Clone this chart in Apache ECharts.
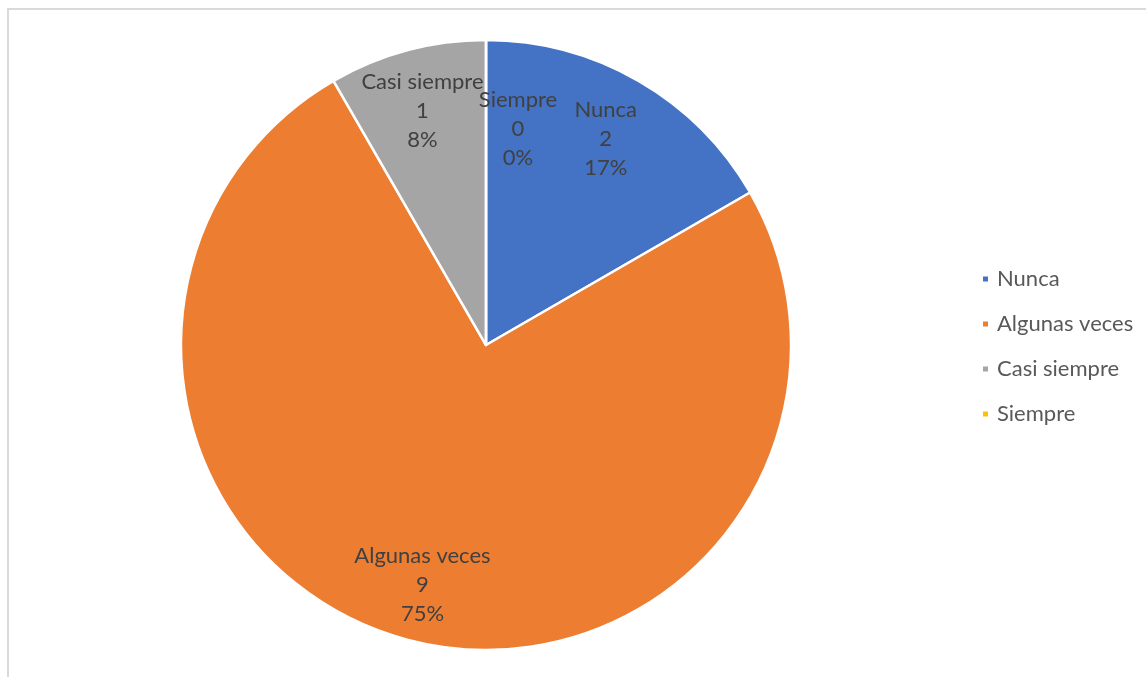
<!DOCTYPE html>
<html lang="es">
<head>
    <meta charset="UTF-8">
    <title>Pie</title>
    <script type="text/javascript" src="https://cdn.jsdelivr.net/npm/echarts@6/dist/echarts.min.js"></script>
    <style>
        html, body { margin: 0; padding: 0; background: #fff; overflow: hidden; }
        #frame { position: absolute; left: 7px; top: 8px; width: 1200px; height: 720px; border: 2px solid #dadada; }
        #main { position: absolute; left: 0; top: 0; width: 1146px; height: 677px; }
    </style>
</head>
<body>
<div id="frame"></div>
<div id="main"></div>

<script type="text/javascript">
    var categories = ['Nunca', 'Algunas veces', 'Casi siempre', 'Siempre'];
    var values = [2, 9, 1, 0];
    var colors = ['#4472C4', '#ED7D31', '#A5A5A5', '#FFC000'];

    // label nudges, like the original layout
    var labelOffsets = { 'Nunca': [-3, 7], 'Siempre': [32, 29] };

    var chart = echarts.init(document.getElementById('main'));

    var pieData = categories.map(function (name, i) {
        return { name: name, value: values[i], itemStyle: { color: colors[i] } };
    });

    var labelData = categories.map(function (name, i) {
        var item = { name: name, value: values[i] };
        if (labelOffsets[name]) {
            item.label = { offset: labelOffsets[name] };
        }
        return item;
    });

    var font = 'Lato, "Open Sans", sans-serif';

    var option = {
        animation: false,
        legend: {
            data: categories,
            orient: 'vertical',
            left: 976,
            top: 263,
            icon: 'rect',
            itemWidth: 7,
            itemHeight: 7,
            itemGap: 23,
            selectedMode: false,
            textStyle: { fontFamily: font, fontSize: 22, lineHeight: 22, color: '#595959', padding: [0, 0, 0, 3] }
        },
        series: [
            {
                type: 'pie',
                center: [486, 345],
                radius: [0, 305],
                startAngle: 90,
                silent: true,
                label: { show: false },
                labelLine: { show: false },
                itemStyle: { borderColor: '#fff', borderWidth: 2.5 },
                data: pieData
            },
            {
                type: 'pie',
                center: [486, 345],
                radius: [180, 305],
                startAngle: 90,
                silent: true,
                avoidLabelOverlap: false,
                labelLayout: { hideOverlap: false },
                itemStyle: { color: 'rgba(0,0,0,0)', borderWidth: 0 },
                label: {
                    show: true,
                    position: 'inside',
                    offset: [0, 3],
                    fontFamily: font,
                    fontSize: 22,
                    lineHeight: 29,
                    color: '#404040',
                    formatter: function (p) {
                        return p.name + '\n' + p.value + '\n' + Math.round(p.percent) + '%';
                    }
                },
                labelLine: { show: false },
                data: labelData
            }
        ]
    };

    chart.setOption(option);
</script>
</body>
</html>
